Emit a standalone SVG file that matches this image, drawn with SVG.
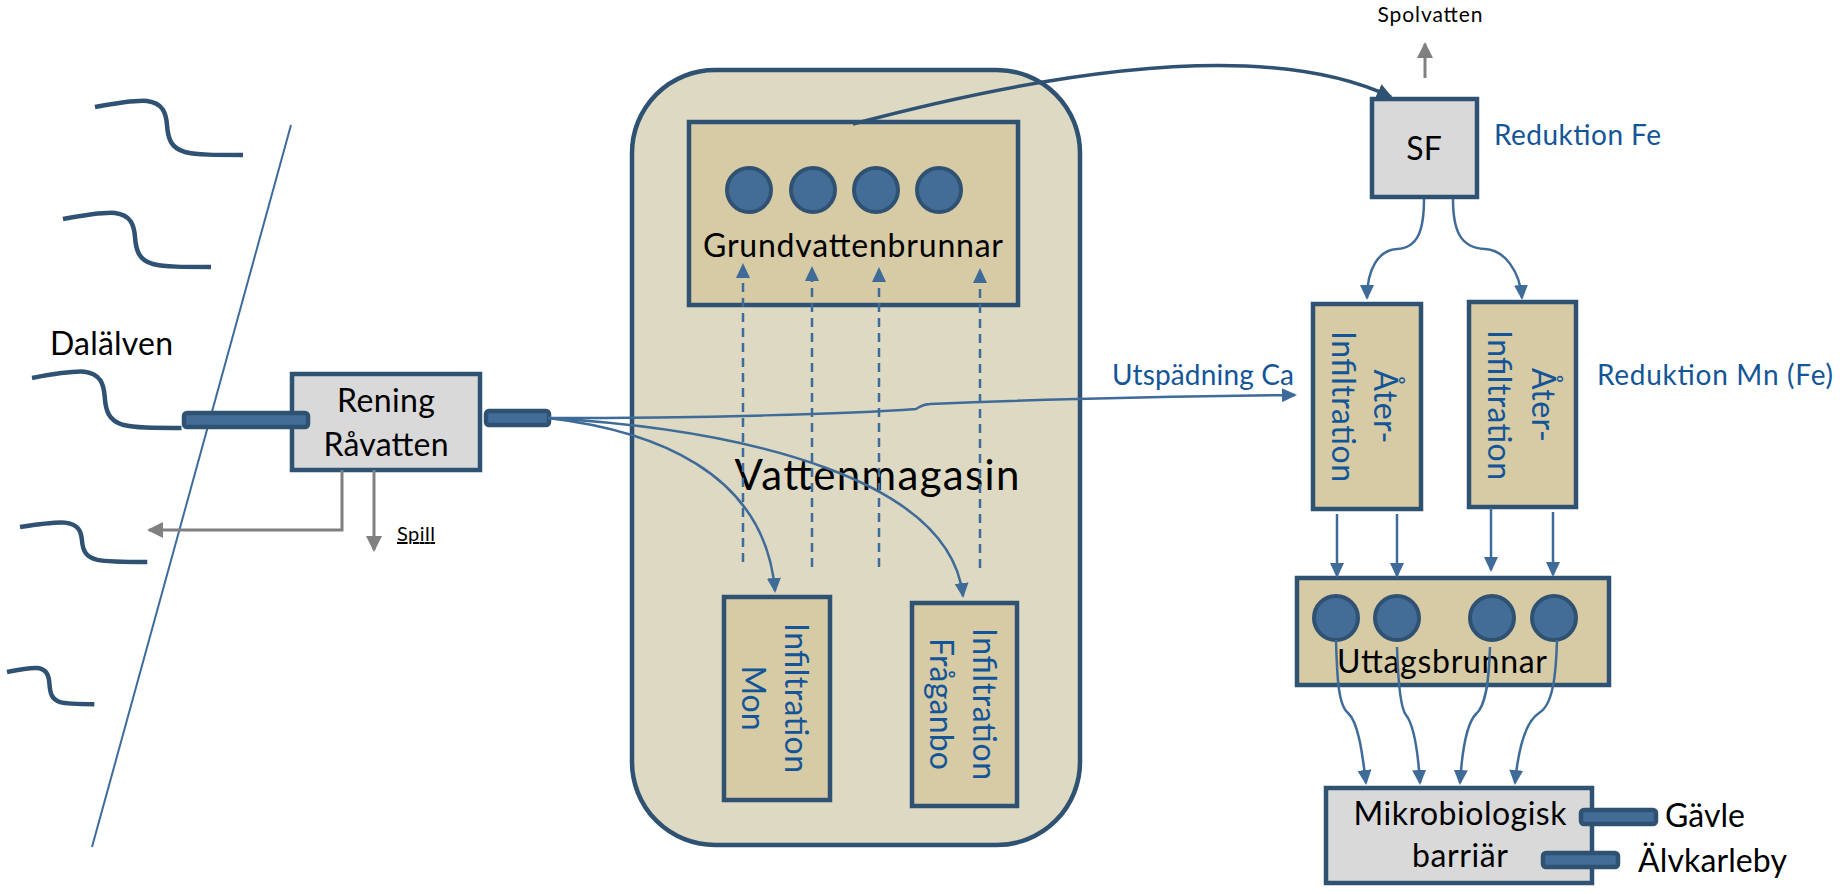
<svg xmlns="http://www.w3.org/2000/svg" width="1845" height="894" viewBox="0 0 1845 894">
  <defs>
    <style>
      .wave { fill: none; stroke: #2f5273; stroke-width: 4.5; vector-effect: non-scaling-stroke; stroke-linecap: butt; }
      .shore { stroke: #3d6b9b; stroke-width: 2; fill: none; }
      .grey-box { fill: #d9d9d9; stroke: #2f5273; stroke-width: 4.5; }
      .tan-box { fill: #d7cba6; stroke: #2f5273; stroke-width: 4.5; }
      .basin { fill: #ddd9c3; stroke: #2f5273; stroke-width: 4.5; }
      .well { fill: #436d96; stroke: #2f5273; stroke-width: 4; }
      .pipe { fill: #436d96; stroke: #2f5273; stroke-width: 4.5; }
      .lbl { font-family: Lato, "Liberation Sans", sans-serif; fill: #000; }
      .blue-lbl { font-family: Lato, "Liberation Sans", sans-serif; fill: #135597; }
      .flow { fill: none; stroke: #3f6b98; stroke-width: 2.5; }
      .flow-dash { fill: none; stroke: #3f6b98; stroke-width: 2.5; stroke-dasharray: 9 6; }
      .flow-dark { fill: none; stroke: #2f5273; stroke-width: 3.5; }
      .reject { fill: none; stroke: #808080; stroke-width: 3; }
    </style>
    <marker id="ah-blue" viewBox="0 0 15 14" refX="13" refY="7" markerWidth="15" markerHeight="14" markerUnits="userSpaceOnUse" orient="auto">
      <path d="M0,0 L15,7 L0,14 z" fill="#3f6b98"/>
    </marker>
    <marker id="ah-dark" viewBox="0 0 16 15" refX="14" refY="7.5" markerWidth="16" markerHeight="15" markerUnits="userSpaceOnUse" orient="auto">
      <path d="M0,0 L16,7.5 L0,15 z" fill="#2f5273"/>
    </marker>
    <marker id="ah-grey" viewBox="0 0 16 16" refX="14" refY="8" markerWidth="16" markerHeight="16" markerUnits="userSpaceOnUse" orient="auto">
      <path d="M0,0 L16,8 L0,16 z" fill="#808080"/>
    </marker>
  </defs>

  <!-- river waves and shoreline -->
  <g id="river">
    <path class="wave" transform="translate(95,107)" d="M0,0 C22,-4 40,-7 52,-6 C68,-4 71,6 72,18 C73,32 76,41 90,45 C102,48 120,48 148,48"/>
    <path class="wave" transform="translate(63,219)" d="M0,0 C22,-4 40,-7 52,-6 C68,-4 71,6 72,18 C73,32 76,41 90,45 C102,48 120,48 148,48"/>
    <path class="wave" transform="translate(32,378) scale(1.01,1.04)" d="M0,0 C22,-4 40,-7 52,-6 C68,-4 71,6 72,18 C73,32 76,41 90,45 C102,48 120,48 148,48"/>
    <path class="wave" transform="translate(20,527) scale(0.86,0.73)" d="M0,0 C22,-4 40,-7 52,-6 C68,-4 71,6 72,18 C73,32 76,41 90,45 C102,48 120,48 148,48"/>
    <path class="wave" transform="translate(7,672) scale(0.59,0.67)" d="M0,0 C22,-4 40,-7 52,-6 C68,-4 71,6 72,18 C73,32 76,41 90,45 C102,48 120,48 148,48"/>
    <line class="shore" x1="291" y1="125" x2="92" y2="847"/>
    <text class="lbl" x="50" y="355" font-size="32" textLength="123">Dalälven</text>
  </g>

  <!-- raw water treatment -->
  <g id="rening">
    <rect class="grey-box" x="292" y="374" width="188" height="96"/>
    <text class="lbl" x="386" y="412" font-size="32" text-anchor="middle" textLength="98">Rening</text>
    <text class="lbl" x="386" y="456" font-size="32" text-anchor="middle" textLength="125">Råvatten</text>
    <rect class="pipe" x="184" y="413" width="124" height="14" rx="3"/>
    <rect class="pipe" x="486" y="411" width="63" height="14" rx="3"/>
  </g>

  <g id="spill">
    <text class="lbl" x="397" y="541" font-size="20" text-decoration="underline" textLength="38">Spill</text>
  </g>

  <!-- aquifer -->
  <g id="vattenmagasin">
    <rect class="basin" x="632" y="70" width="448" height="775" rx="83" ry="83"/>
    <text class="lbl" x="877" y="490" font-size="42" text-anchor="middle" textLength="285">Vattenmagasin</text>
  </g>

  <g id="grundvattenbrunnar">
    <rect class="tan-box" x="689" y="122" width="329" height="183"/>
    <circle class="well" cx="749" cy="190" r="22"/>
    <circle class="well" cx="813" cy="190" r="22"/>
    <circle class="well" cx="876" cy="190" r="22"/>
    <circle class="well" cx="939" cy="190" r="22"/>
    <text class="lbl" x="853" y="257" font-size="32" text-anchor="middle" textLength="300">Grundvattenbrunnar</text>
  </g>

  <g id="infiltration-mon">
    <rect class="tan-box" x="724" y="597" width="106" height="203"/>
    <text class="blue-lbl" transform="translate(777,698) rotate(90)" x="0" y="-8" font-size="32" text-anchor="middle" textLength="150">Infiltration</text>
    <text class="blue-lbl" transform="translate(777,698) rotate(90)" x="0" y="35" font-size="32" text-anchor="middle" textLength="65">Mon</text>
  </g>

  <g id="infiltration-fraganbo">
    <rect class="tan-box" x="912" y="603" width="105" height="203"/>
    <text class="blue-lbl" transform="translate(964.5,704) rotate(90)" x="0" y="-8.5" font-size="32" text-anchor="middle" textLength="152">Infiltration</text>
    <text class="blue-lbl" transform="translate(964.5,704) rotate(90)" x="0" y="34.5" font-size="32" text-anchor="middle" textLength="132">Fråganbo</text>
  </g>

  <!-- rapid filter -->
  <g id="sf">
    <rect class="grey-box" x="1372" y="99" width="105" height="98"/>
    <text class="lbl" x="1424" y="160" font-size="32" text-anchor="middle">SF</text>
    <text class="blue-lbl" x="1494" y="145" font-size="28" textLength="167">Reduktion Fe</text>
  </g>

  <g id="spolvatten">
    <text class="lbl" x="1430" y="22" font-size="21" text-anchor="middle" textLength="105">Spolvatten</text>
  </g>

  <g id="utspadning">
    <text class="blue-lbl" x="1112" y="385" font-size="28" textLength="182">Utspädning Ca</text>
  </g>

  <g id="aterinfiltration-1">
    <rect class="tan-box" x="1313" y="304" width="108" height="205"/>
    <text class="blue-lbl" transform="translate(1367,406.5) rotate(90)" x="0" y="-7" font-size="32" text-anchor="middle" textLength="74">Åter-</text>
    <text class="blue-lbl" transform="translate(1367,406.5) rotate(90)" x="0" y="35" font-size="32" text-anchor="middle" textLength="151">Infiltration</text>
  </g>

  <g id="aterinfiltration-2">
    <rect class="tan-box" x="1469" y="302" width="107" height="205"/>
    <text class="blue-lbl" transform="translate(1522.5,405) rotate(90)" x="0" y="-9.5" font-size="32" text-anchor="middle" textLength="74">Åter-</text>
    <text class="blue-lbl" transform="translate(1522.5,405) rotate(90)" x="0" y="34.5" font-size="32" text-anchor="middle" textLength="150">Infiltration</text>
    <text class="blue-lbl" x="1597" y="385" font-size="28" textLength="236">Reduktion Mn (Fe)</text>
  </g>

  <g id="uttagsbrunnar">
    <rect class="tan-box" x="1297" y="578" width="312" height="107"/>
    <circle class="well" cx="1336" cy="618" r="22"/>
    <circle class="well" cx="1397" cy="618" r="22"/>
    <circle class="well" cx="1492" cy="618" r="22"/>
    <circle class="well" cx="1554" cy="618" r="22"/>
    <text class="lbl" x="1442" y="673" font-size="32" text-anchor="middle" textLength="210">Uttagsbrunnar</text>
  </g>

  <g id="mikrobiologisk-barriar">
    <rect class="grey-box" x="1326" y="788" width="266" height="95"/>
    <text class="lbl" x="1460" y="825" font-size="32" text-anchor="middle" textLength="213">Mikrobiologisk</text>
    <text class="lbl" x="1460" y="867" font-size="32" text-anchor="middle" textLength="96">barriär</text>
    <rect class="pipe" x="1581" y="810" width="75" height="14" rx="3"/>
    <rect class="pipe" x="1543" y="853" width="75" height="14" rx="3"/>
  </g>

  <g id="gavle">
    <text class="lbl" x="1665" y="827" font-size="32" textLength="80">Gävle</text>
  </g>
  <g id="alvkarleby">
    <text class="lbl" x="1638" y="872" font-size="32" textLength="149">Älvkarleby</text>
  </g>

  <!-- flows -->
  <g id="connectors">
    <!-- rejects from raw water treatment -->
    <path class="reject" d="M342,470 V530 H149" marker-end="url(#ah-grey)"/>
    <path class="reject" d="M374,470 V550" marker-end="url(#ah-grey)"/>
    <path class="reject" d="M1425,78 V44" marker-end="url(#ah-grey)"/>

    <!-- treated river water out to infiltration and dilution -->
    <path class="flow" d="M548,418 C700,418 850,414 916,409 C921,406 923,404 930,404 C1050,399 1200,396 1295,395" marker-end="url(#ah-blue)"/>
    <path class="flow" d="M548,418 C650,430 765,470 775,591" marker-end="url(#ah-blue)"/>
    <path class="flow" d="M548,418 C750,430 950,480 963,596" marker-end="url(#ah-blue)"/>

    <!-- recharge rising to the wells -->
    <path class="flow-dash" d="M743,562 V265" marker-end="url(#ah-blue)"/>
    <path class="flow-dash" d="M812,567 V268" marker-end="url(#ah-blue)"/>
    <path class="flow-dash" d="M879,567 V269" marker-end="url(#ah-blue)"/>
    <path class="flow-dash" d="M980,568 V270" marker-end="url(#ah-blue)"/>

    <!-- groundwater to rapid filter -->
    <path class="flow-dark" d="M853,124 C1000,85 1250,30 1391,97" marker-end="url(#ah-dark)"/>

    <!-- filter to re-infiltration -->
    <path class="flow" d="M1424,199 C1424,230 1418,248 1397,249 C1378,250 1367,270 1367,298" marker-end="url(#ah-blue)"/>
    <path class="flow" d="M1453,199 C1453,230 1460,248 1485,249 C1505,250 1520,272 1522,298" marker-end="url(#ah-blue)"/>

    <!-- re-infiltration to production wells -->
    <path class="flow" d="M1337,514 V576" marker-end="url(#ah-blue)"/>
    <path class="flow" d="M1397,514 V576" marker-end="url(#ah-blue)"/>
    <path class="flow" d="M1491,508 V570" marker-end="url(#ah-blue)"/>
    <path class="flow" d="M1553,512 V575" marker-end="url(#ah-blue)"/>

    <!-- production wells to microbial barrier -->
    <path class="flow" d="M1336,640 C1337,675 1338,705 1348,713 C1358,722 1362,750 1366,783" marker-end="url(#ah-blue)"/>
    <path class="flow" d="M1397,647 C1398,680 1400,708 1406,715 C1414,725 1418,752 1420,783" marker-end="url(#ah-blue)"/>
    <path class="flow" d="M1490,647 C1489,680 1486,706 1476,714 C1466,724 1462,752 1460,783" marker-end="url(#ah-blue)"/>
    <path class="flow" d="M1557,640 C1556,675 1553,705 1539,713 C1525,722 1518,752 1515,783" marker-end="url(#ah-blue)"/>
  </g>
</svg>
